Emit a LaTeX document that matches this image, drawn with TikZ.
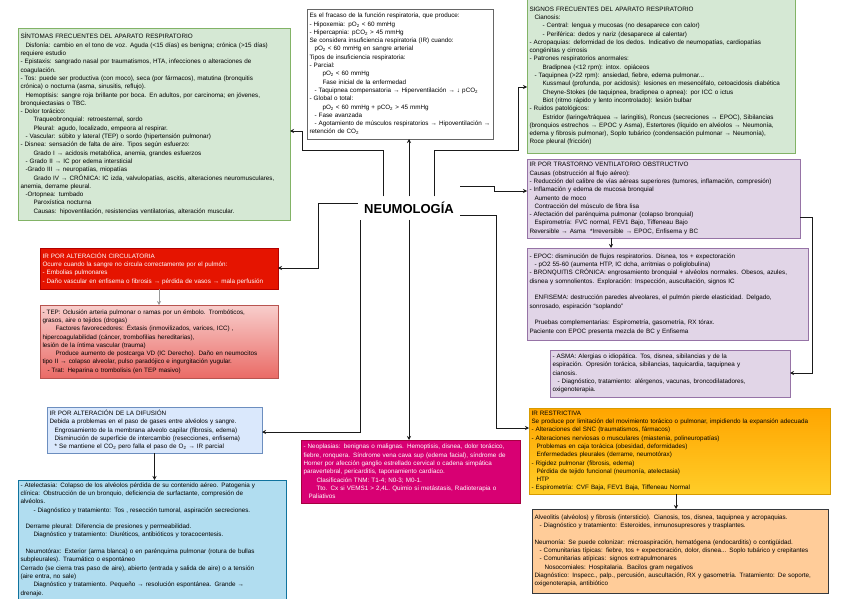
\documentclass[tikz,border=0pt]{standalone}
\usepackage{fontspec}
\setmainfont{Liberation Sans}
\usepackage{tikz}
\usetikzlibrary{positioning,arrows.meta,calc,shadows}
\definecolor{sigfill}{HTML}{D5E8D4}
\definecolor{sigline}{HTML}{82B366}
\definecolor{irline}{HTML}{666666}
\definecolor{obsfill}{HTML}{E1D5E7}
\definecolor{obsline}{HTML}{9673A6}
\definecolor{circfill}{HTML}{E51400}
\definecolor{circline}{HTML}{B20000}
\definecolor{tepfill}{HTML}{F8CECC}
\definecolor{tepdeep}{HTML}{EA6B66}
\definecolor{tepline}{HTML}{B85450}
\definecolor{diffill}{HTML}{DAE8FC}
\definecolor{difline}{HTML}{6C8EBF}
\definecolor{atefill}{HTML}{B1DDF0}
\definecolor{ateline}{HTML}{10739E}
\definecolor{neofill}{HTML}{D80073}
\definecolor{neoline}{HTML}{A50040}
\definecolor{resdeep}{HTML}{FFA500}
\definecolor{reslight}{HTML}{FFCD28}
\definecolor{resline}{HTML}{D79B00}
\definecolor{intfill}{HTML}{FFCC99}
\definecolor{intline}{HTML}{36393D}
\definecolor{linkink}{HTML}{1A1A1A}
\newcommand{\indA}{\hspace*{5pt}}
\newcommand{\indB}{\hspace*{13pt}}
\newcommand{\sbs}[1]{\textsubscript{#1}}

\begin{document}
\begin{tikzpicture}[
  x=1pt, y=-1pt,
  font=\fontsize{6.3}{8.3}\selectfont,
  box/.style={draw, anchor=north west, align=left, inner sep=2.5pt, outer sep=0pt, line width=0.6pt},
  shd/.style={drop shadow={shadow xshift=1.2pt, shadow yshift=-1.2pt, opacity=0.3}},
  sig/.style={box, fill=sigfill, draw=sigline},
  ir/.style={box, fill=white, draw=irline, shd},
  obs/.style={box, fill=obsfill, draw=obsline},
  circ/.style={box, fill=circfill, draw=circline, text=white},
  tepbox/.style={box, top color=tepfill, bottom color=tepdeep, draw=tepline, shd},
  dif/.style={box, fill=diffill, draw=difline, shd},
  ate/.style={box, fill=atefill, draw=ateline, shd},
  neo/.style={box, fill=neofill, draw=neoline, text=white},
  res/.style={box, top color=resdeep, bottom color=reslight, draw=resline},
  inter/.style={box, fill=intfill, draw=intline, shd},
  arr/.style={-{Stealth[length=4pt, width=4pt]}, line width=0.7pt, draw=linkink}
]
\fill[white] (0,0) rectangle (848,599);
\useasboundingbox (0,0) rectangle (848,599);

\node[font=\bfseries\fontsize{13}{15}\selectfont, minimum width=102pt, minimum height=23pt, inner sep=0pt] (neumo) at (409,208) {NEUMOLOGÍA};

\node[sig, text width=267pt, minimum height=192pt] (sintomas) at (18,28)
  {SÍNTOMAS FRECUENTES DEL APARATO RESPIRATORIO\\
   \indA Disfonía: cambio en el tono de voz. Aguda (<15 días) es benigna; crónica (>15 días)\\
   requiere estudio\\
   - Epistaxis: sangrado nasal por traumatismos, HTA, infecciones o alteraciones de\\
   coagulación.\\
   - Tos: puede ser productiva (con moco), seca (por fármacos), matutina (bronquitis\\
   crónica) o nocturna (asma, sinusitis, reflujo).\\
   \indA Hemoptisis: sangre roja brillante por boca. En adultos, por carcinoma; en jóvenes,\\
   bronquiectasias o TBC.\\
   - Dolor torácico:\\
   \indB Traqueobronquial: retroesternal, sordo\\
   \indB Pleural: agudo, localizado, empeora al respirar.\\
   \indA - Vascular: súbito y lateral (TEP) o sordo (hipertensión pulmonar)\\
   - Disnea: sensación de falta de aire. Tipos según esfuerzo:\\
   \indB Grado I → acidosis metabólica, anemia, grandes esfuerzos\\
   \indA - Grado II → IC por edema intersticial\\
   \indA -Grado III → neuropatías, miopatías\\
   \indB Grado IV → CRÓNICA: IC izda, valvulopatías, ascitis, alteraciones neuromusculares,\\
   anemia, derrame pleural.\\
   \indA -Ortopnea: tumbado\\
   \indB Paroxística nocturna\\
   \indB Causas: hipoventilación, resistencias ventilatorias, alteración muscular.};

\node[ir, text width=181pt, minimum height=130pt] (fracaso) at (307,9)
  {Es el fracaso de la función respiratoria, que produce:\\
   - Hipoxemia: pO\sbs{2} < 60 mmHg\\
   - Hipercapnia: pCO\sbs{2} > 45 mmHg\\
   Se considera insuficiencia respiratoria (IR) cuando:\\
   \indA pO\sbs{2} < 60 mmHg en sangre arterial\\
   Tipos de insuficiencia respiratoria:\\
   - Parcial:\\
   \indB pO\sbs{2} < 60 mmHg\\
   \indB Fase inicial de la enfermedad\\
   \indA - Taquipnea compensatoria → Hiperventilación → ↓ pCO\sbs{2}\\
   - Global o total:\\
   \indB pO\sbs{2} < 60 mmHg + pCO\sbs{2} > 45 mmHg\\
   \indA - Fase avanzada\\
   \indA - Agotamiento de músculos respiratorios → Hipoventilación →\\
   retención de CO\sbs{2}};

\node[sig, text width=263pt, minimum height=154pt] (signos) at (527,-1)
  {SIGNOS FRECUENTES DEL APARATO RESPIRATORIO\\
   \indA Cianosis:\\
   \indB - Central: lengua y mucosas (no desaparece con calor)\\
   \indB - Periférica: dedos y nariz (desaparece al calentar)\\
   - Acropaquias: deformidad de los dedos. Indicativo de neumopatías, cardiopatías\\
   congénitas y cirrosis\\
   - Patrones respiratorios anormales:\\
   \indB Bradipnea (<12 rpm): intox. opiáceos\\
   \indA - Taquipnea (>22 rpm): ansiedad, fiebre, edema pulmonar...\\
   \indB Kussmaul (profunda, por acidosis): lesiones en mesencéfalo, cetoacidosis diabética\\
   \indB Cheyne-Stokes (de taquipnea, bradipnea o apnea): por ICC o ictus\\
   \indB Biot (ritmo rápido y lento incontrolado): lesión bulbar\\
   - Ruidos patológicos:\\
   \indB Estridor (laringe/tráquea → laringitis), Roncus (secreciones → EPOC), Sibilancias\\
   (bronquios estrechos → EPOC y Asma), Estertores (líquido en alvéolos → Neumonía,\\
   edema y fibrosis pulmonar), Soplo tubárico (condensación pulmonar → Neumonía),\\
   Roce pleural (fricción)};

\node[obs, text width=268pt, minimum height=79pt] (obstructiva) at (527,159)
  {IR POR TRASTORNO VENTILATORIO OBSTRUCTIVO\\
   Causas (obstrucción al flujo aéreo):\\
   - Reducción del calibre de vías aéreas superiores (tumores, inflamación, compresión)\\
   - Inflamación y edema de mucosa bronquial\\
   \indA Aumento de moco\\
   \indA Contracción del músculo de fibra lisa\\
   - Afectación del parénquima pulmonar (colapso bronquial)\\
   \indA Espirometría: FVC normal, FEV1 Bajo, Tiffeneau Bajo\\
   * Reversible → Asma \ *Irreversible → EPOC, Enfisema y BC};

\node[obs, text width=276pt, minimum height=92pt] (epoc) at (527,248)
  {- EPOC: disminución de flujos respiratorios. Disnea, tos + expectoración\\
   \indA - pO2 55-60 (aumenta HTP, IC dcha, arritmias o poliglobulina)\\
   - BRONQUITIS CRÓNICA: engrosamiento bronquial + alvéolos normales. Obesos, azules,\\
   disnea y somnolientos. Exploración: Inspección, auscultación, signos IC\\[8.3pt]
   \indA ENFISEMA: destrucción paredes alveolares, el pulmón pierde elasticidad. Delgado,\\
   sonrosado, espiración ``soplando''\\[8.3pt]
   \indA Pruebas complementarias: Espirometría, gasometría, RX tórax.\\
   *Paciente con EPOC presenta mezcla de BC y Enfisema};

\node[obs, shd, text width=235pt, minimum height=47pt] (asma) at (550,350)
  {- ASMA: Alergias o idiopática. Tos, disnea, sibilancias y de la\\
   espiración. Opresión torácica, sibilancias, taquicardia, taquipnea y\\
   cianosis.\\
   \indA - Diagnóstico, tratamiento: alérgenos, vacunas, broncodilatadores,\\
   oxigenoterapia.};

\node[res, text width=296pt, minimum height=86pt] (restrictiva) at (529,408)
  {IR RESTRICTIVA\\
   Se produce por limitación del movimiento torácico o pulmonar, impidiendo la expansión adecuada\\
   - Alteraciones del SNC (traumatismos, fármacos)\\
   - Alteraciones nerviosas o musculares (miastenia, polineuropatías)\\
   \indA Problemas en caja torácica (obesidad, deformidades)\\
   \indA Enfermedades pleurales (derrame, neumotórax)\\
   - Rigidez pulmonar (fibrosis, edema)\\
   \indA Pérdida de tejido funcional (neumonía, atelectasia)\\
   \indA HTP\\
   - Espirometría: CVF Baja, FEV1 Baja, Tiffeneau Normal};

\node[inter, text width=291pt, minimum height=84pt] (intersticial) at (532,509)
  {Alveolitis (alvéolos) y fibrosis (intersticio). Cianosis, tos, disnea, taquipnea y acropaquias.\\
   \indA - Diagnóstico y tratamiento: Esteroides, inmunosupresores y trasplantes.\\[8.3pt]
   Neumonía: Se puede colonizar: microaspiración, hematógena (endocarditis) o contigüidad.\\
   \indA - Comunitarias típicas: fiebre, tos + expectoración, dolor, disnea... Soplo tubárico y crepitantes\\
   \indA - Comunitarias atípicas: signos extrapulmonares\\
   \indA\indA Nosocomiales: Hospitalaria. Bacilos gram negativos\\
   Diagnóstico: Inspecc., palp., percusión, auscultación, RX y gasometría. Tratamiento: De soporte,\\
   oxigenoterapia, antibiótico};

\node[circ, text width=233pt, minimum height=41pt] (circulatoria) at (40,248)
  {IR POR ALTERACIÓN CIRCULATORIA\\
   Ocurre cuando la sangre no circula correctamente por el pulmón:\\
   - Embolias pulmonares\\
   - Daño vascular en enfisema o fibrosis → pérdida de vasos → mala perfusión};

\node[tepbox, text width=233pt, minimum height=73pt] (tep) at (40,305)
  {- TEP: Oclusión arteria pulmonar o ramas por un émbolo. Trombóticos,\\
   grasos, aire o tejidos (drogas)\\
   \indB Factores favorecedores: Éxtasis (inmovilizados, varices, ICC) ,\\
   hipercoagulabilidad (cáncer, trombofilias hereditarias),\\
   lesión de la íntima vascular (trauma)\\
   \indB Produce aumento de postcarga VD (IC Derecho). Daño en neumocitos\\
   tipo II → colapso alveolar, pulso paradójico e ingurgitación yugular.\\
   \indA - Trat: Heparina o trombolisis (en TEP masivo)};

\node[dif, text width=210pt, minimum height=46pt] (difusion) at (47,407)
  {IR POR ALTERACIÓN DE LA DIFUSIÓN\\
   Debida a problemas en el paso de gases entre alvéolos y sangre.\\
   \indA Engrosamiento de la membrana alveolo capilar (fibrosis, edema)\\
   \indA Disminución de superficie de intercambio (resecciones, enfisema)\\
   \indA * Se mantiene el CO\sbs{2} pero falla el paso de O\sbs{2} → IR parcial};

\node[ate, text width=263pt, minimum height=118pt] (atelectasia) at (18,480)
  {- Atelectasia: Colapso de los alvéolos pérdida de su contenido aéreo. Patogenia y\\
   clínica: Obstrucción de un bronquio, deficiencia de surfactante, compresión de\\
   alvéolos.\\
   \indB - Diagnóstico y tratamiento: Tos , resección tumoral, aspiración secreciones.\\[8.3pt]
   \indA Derrame pleural: Diferencia de presiones y permeabilidad.\\
   \indB Diagnóstico y tratamiento: Diuréticos, antibióticos y toracocentesis.\\[8.3pt]
   \indA Neumotórax: Exterior (arma blanca) o en parénquima pulmonar (rotura de bullas\\
   subpleurales). Traumático o espontáneo\\
   Cerrado (se cierra tras paso de aire), abierto (entrada y salida de aire) o a tensión\\
   (aire entra, no sale)\\
   \indB Diagnóstico y tratamiento. Pequeño → resolución espontánea. Grande →\\
   drenaje.};

\node[neo, shd, text width=214pt, minimum height=63pt] (neoplasias) at (301,440)
  {- Neoplasias: benignas o malignas. Hemoptisis, disnea, dolor torácico,\\
   fiebre, ronquera. Síndrome vena cava sup (edema facial), síndrome de\\
   Horner por afección ganglio estrellado cervical o cadena simpática\\
   paravertebral, pericarditis, taponamiento cardíaco.\\
   \indB Clasificación TNM: T1-4; N0-3; M0-1.\\
   \indB Tto. Cx si VEMS1 > 2,4L. Quimio si metástasis, Radioterapia o\\
   \indA Paliativos};

% bends of the connectors
\coordinate (upS) at (383,150);
\coordinate (upS2) at (302,131);
\coordinate (upG) at (434,150);
\coordinate (upG2) at (518,87);
\coordinate (lfC) at (318,203);
\coordinate (lfC2) at (318,268);
\coordinate (rtO) at (494,186);
\coordinate (rtO2) at (494,191);
\coordinate (rtR) at (496,215);
\coordinate (rtR2) at (496,428);
\coordinate (dnD) at (360,220);
\coordinate (dnD2) at (360,432);
\coordinate (obA) at (812,217);
\coordinate (obA2) at (812,373);
\coordinate (obE) at (611,0);
\coordinate (reI) at (676,0);

\draw[arr] (neumo.north) -- (neumo.north |- fracaso.south);
\draw[arr] (neumo.north -| upS) -- (upS) -| (upS2) -- (upS2 -| sintomas.east);
\draw[arr] (neumo.north -| upG) -- (upG) -| (upG2) -- (upG2 -| signos.west);
\draw[arr] (neumo.west |- lfC) -- (lfC) -- (lfC2) -- (lfC2 -| circulatoria.east);
\draw[arr] (neumo.east |- rtO) -- (rtO) -- (rtO2) -- (rtO2 -| obstructiva.west);
\draw[arr] (neumo.east |- rtR) -- (rtR) -- (rtR2) -- (rtR2 -| restrictiva.west);
\draw[arr] (dnD) -- (dnD2) -- (dnD2 -| difusion.east);
\draw[arr] (neumo.south) -- (neumo.south |- neoplasias.north);
\draw[arr, draw=linkink!45] (circulatoria.south) -- (tep.north);
\draw[arr] (difusion.south) -- (difusion.south |- atelectasia.north);
\draw[arr] (obstructiva.south -| obE) -- (epoc.north -| obE);
\draw[arr] (obstructiva.east |- obA) -- (obA) -- (obA2) -- (obA2 -| asma.east);
\draw[arr] (restrictiva.south -| reI) -- (intersticial.north -| reI);
\end{tikzpicture}
\end{document}
